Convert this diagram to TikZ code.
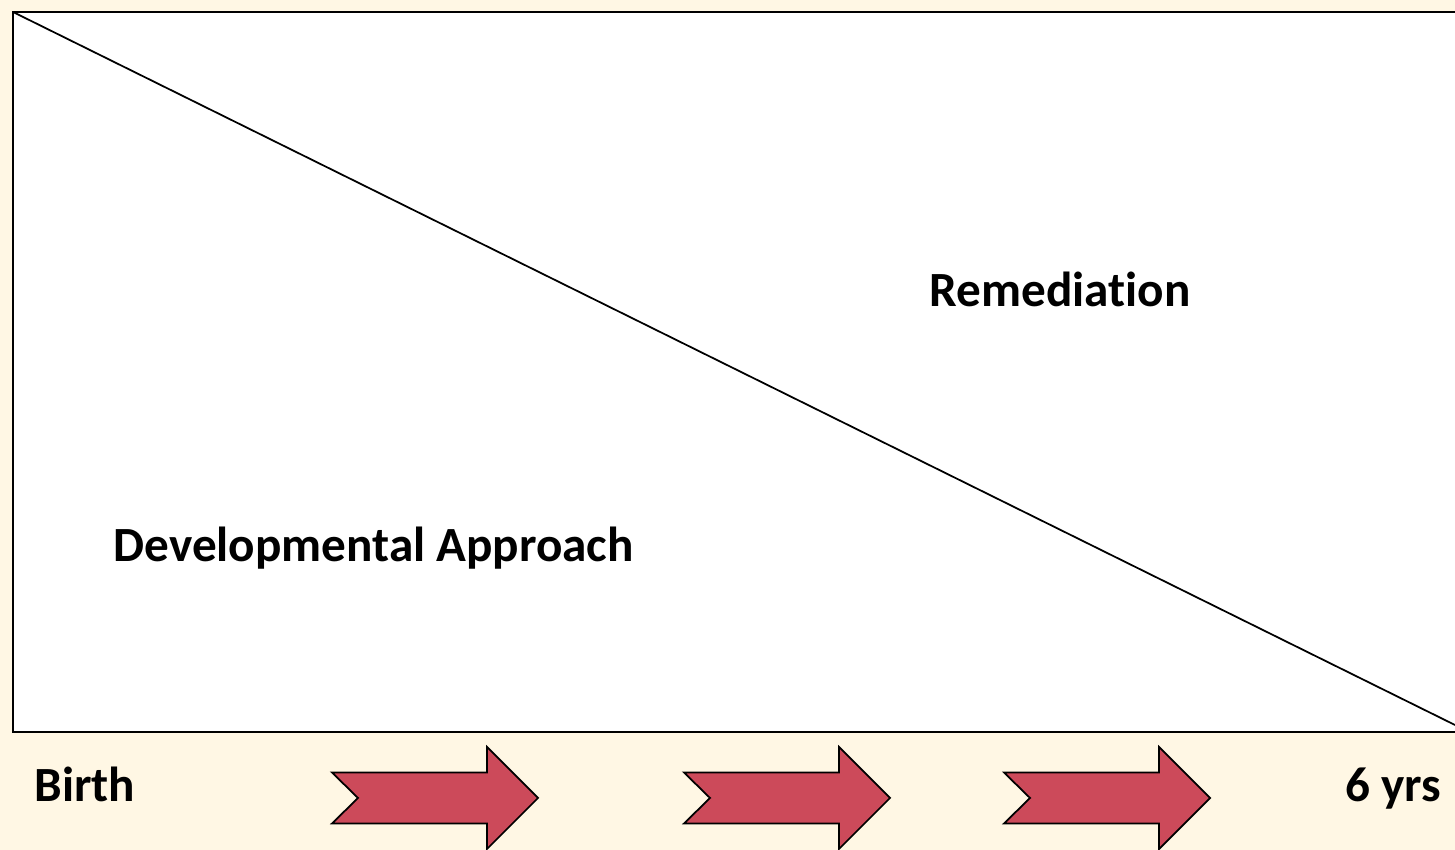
\documentclass[tikz,border=0pt]{standalone}
\usepackage{fontspec}
\setmainfont{Carlito}[RawFeature=-liga]
\usetikzlibrary{positioning}
\definecolor{cream}{RGB}{255,247,228}
\definecolor{arrowred}{RGB}{204,74,90}
\tikzset{lbl/.style={inner sep=0pt,font=\bfseries\fontsize{14}{17}\selectfont},
  steparrow/.pic={\draw[fill=arrowred,line width=0.5pt,line join=miter]
    (0,0.255) -- (1.55,0.255) -- (1.55,0.51) -- (2.06,0) -- (1.55,-0.51)
    -- (1.55,-0.255) -- (0,-0.255) -- (0.26,0) -- cycle;}}

\begin{document}
\begin{tikzpicture}
\fill[cream] (0,0) rectangle (14.55,-8.5);
\useasboundingbox (0,0) rectangle (14.55,-8.5);
\clip (0,0) rectangle (14.55,-8.5);
% panel and split
\coordinate (tl) at (0.13,-0.12);
\coordinate (br) at (14.75,-7.32);
\coordinate (end) at (14.55,-7.25);
\draw[fill=white,line width=0.8pt] (tl) rectangle (br);
\draw[line width=0.5pt] (tl) -- (end);
\node[lbl,anchor=base west] (rem) at (9.29,-3.07) {Remediation};
\node[lbl,anchor=base west] (dev) at (1.13,-5.62) {Developmental Approach};
% time line
\node[lbl,anchor=base west] (birth) at (0.34,-8.02) {Birth};
\node[lbl,anchor=base east] (six) at (14.42,-8.02) {6 yrs};
\foreach \x in {3.32,6.84,10.04}
  \pic at (\x,-7.98) {steparrow};
\end{tikzpicture}
\end{document}
